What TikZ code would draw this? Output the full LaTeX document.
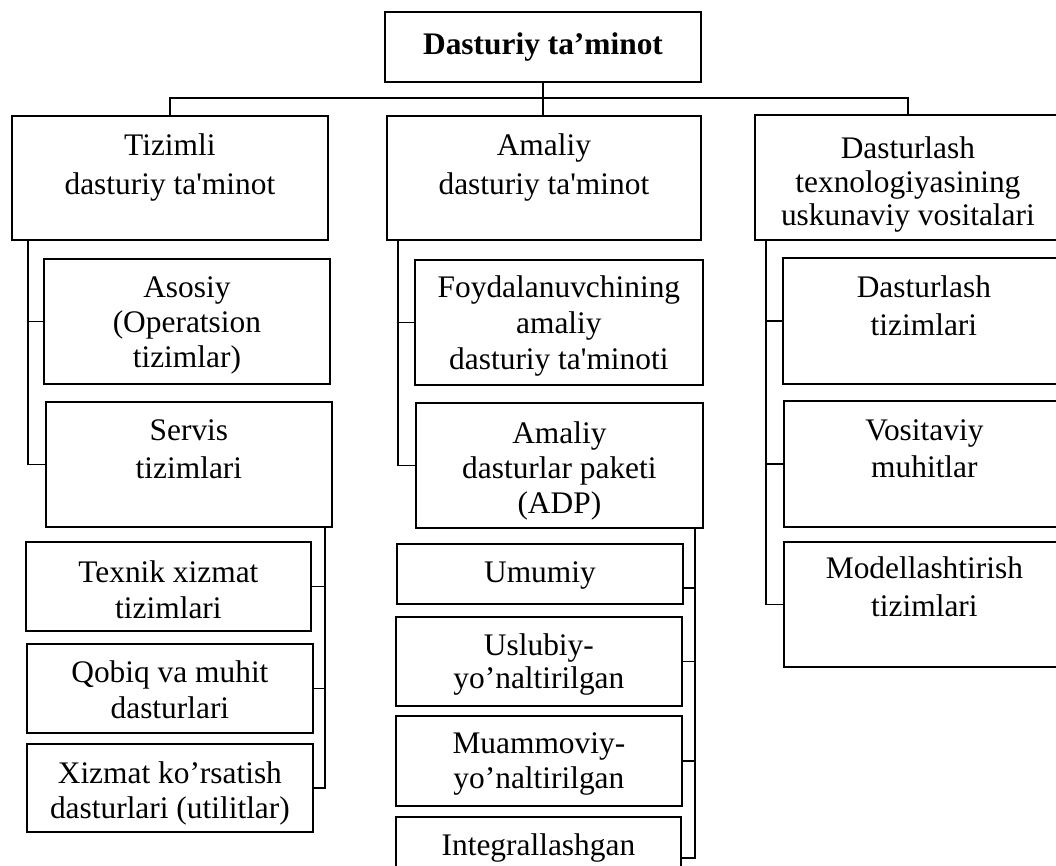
\documentclass[tikz,border=0pt]{standalone}
\usepackage{fontspec}
\setmainfont{Liberation Serif}
\usetikzlibrary{calc}

\newcommand{\boxfont}{\fontsize{15.7}{18}\selectfont}

\tikzset{
  ubox/.style 2 args={draw, line width=0.9pt, anchor=north west, inner xsep=2pt, inner ysep=0pt,
    align=center, text height=19.5pt, font=\boxfont, minimum width=#1, text depth=#2},
  link/.style={line width=0.75pt}
}

\begin{document}
\begin{tikzpicture}[x=0.5pt,y=-0.5pt]
\useasboundingbox (0,0) rectangle (1056,866);

\node (dt) at (543,47)[draw,line width=0.9pt,minimum width=158pt,minimum height=35pt,font=\fontsize{15.7}{18}\selectfont\bfseries]{Dasturiy ta'minot};

% first level
\node (tiz) at (11,115)[ubox={158pt}{22.5pt},text height=39.5pt,font=\fontsize{15.7}{19.5}\selectfont]{Tizimli\\dasturiy ta\textquotesingle minot};
\node (ama) at (386,115)[ubox={157pt}{22.5pt},text height=39.5pt,font=\fontsize{15.7}{19.5}\selectfont]{Amaliy\\dasturiy ta\textquotesingle minot};
\node (dtx) at (754,114)[ubox={153pt}{7pt},text height=55.5pt,font=\fontsize{15.7}{16.75}\selectfont]{Dasturlash\\texnologiyasining\\uskunaviy vositalari};

% tizimli
\node (aso) at (43,258)[ubox={143pt}{8pt},text height=54.5pt,font=\fontsize{15.7}{17.5}\selectfont]{Asosiy\\(Operatsion\\tizimlar)};
\node (ser) at (45,401)[ubox={143pt}{24pt},text height=38.5pt,font=\fontsize{15.7}{19}\selectfont]{Servis\\tizimlari};
\node (tex) at (25,541)[ubox={142.5pt}{6pt},text height=38.5pt]{Texnik xizmat\\tizimlari};
\node (qob) at (26,643)[ubox={143pt}{7pt},text height=37.5pt]{Qobiq va muhit\\dasturlari};
\node (xiz) at (26,743)[ubox={143pt}{6.5pt},text height=37.5pt,font=\fontsize{15.7}{17.5}\selectfont]{Xizmat ko'rsatish\\dasturlari (utilitlar)};

% amaliy
\node (foy) at (414,259)[ubox={144pt}{7.5pt},text height=55pt]{Foydalanuvchining\\ amaliy\\ dasturiy ta\textquotesingle minoti};
\node (adp) at (415,402)[ubox={143.5pt}{7pt},text height=55.5pt,font=\fontsize{15.7}{17.5}\selectfont]{Amaliy\\ dasturlar paketi\\(ADP)};
\node (umu) at (396,543)[ubox={143pt}{10.5pt}]{Umumiy};
\node (usl) at (395,616)[ubox={143pt}{8.5pt},text height=36pt,font=\fontsize{15.7}{16.5}\selectfont]{Uslubiy-\\yo'naltirilgan};
\node (mua) at (395,715)[ubox={143pt}{8.5pt},text height=36.5pt,font=\fontsize{15.7}{17.5}\selectfont]{Muammoviy-\\yo'naltirilgan};
\node (int) at (395,816)[ubox={142.5pt}{21.5pt}]{Integrallashgan};

% dasturlash
\node (dts) at (782,257)[ubox={141pt}{24pt},text height=39pt,font=\fontsize{15.7}{19}\selectfont]{Dasturlash\\tizimlari};
\node (vos) at (783,400)[ubox={140.5pt}{24.5pt},text height=38.5pt,font=\fontsize{15.7}{18.5}\selectfont]{Vositaviy\\muhitlar};
\node (mod) at (783,541)[ubox={140.5pt}{25pt},text height=37.5pt,font=\fontsize{15.7}{19}\selectfont]{Modellashtirish\\tizimlari};

% bus
\draw[link] (dt.south) -- (dt.south |- ama.north);
\draw[link] (tiz.north) -- ++(0,-17) -| (dtx.north);

% brackets
\coordinate (tl) at (28,239);
\coordinate (tr) at (325,528);
\coordinate (ml) at (398,239);
\coordinate (mr) at (695,529);
\coordinate (rl) at (766,239);

\draw[link] (tl) |- (ser.west);
\draw[link] (tr) |- (xiz.east);
\draw[link] (ml) |- (adp.west);
\draw[link] (mr) |- (int.east);
\draw[link] (rl) |- (mod.west);

\foreach \n in {aso}
  \draw[link] (\n.west) -- (\n.west -| tl);
\foreach \n in {tex,qob}
  \draw[link] (\n.east) -- (\n.east -| tr);
\foreach \n in {foy}
  \draw[link] (\n.west) -- (\n.west -| ml);
\foreach \n in {usl,mua}
  \draw[link] (\n.east) -- (\n.east -| mr);
\draw[link] ([yshift=-7pt]umu.east) -- ([yshift=-7pt]umu.east -| mr);
\foreach \n in {dts,vos}
  \draw[link] (\n.west) -- (\n.west -| rl);

\end{tikzpicture}
\end{document}
